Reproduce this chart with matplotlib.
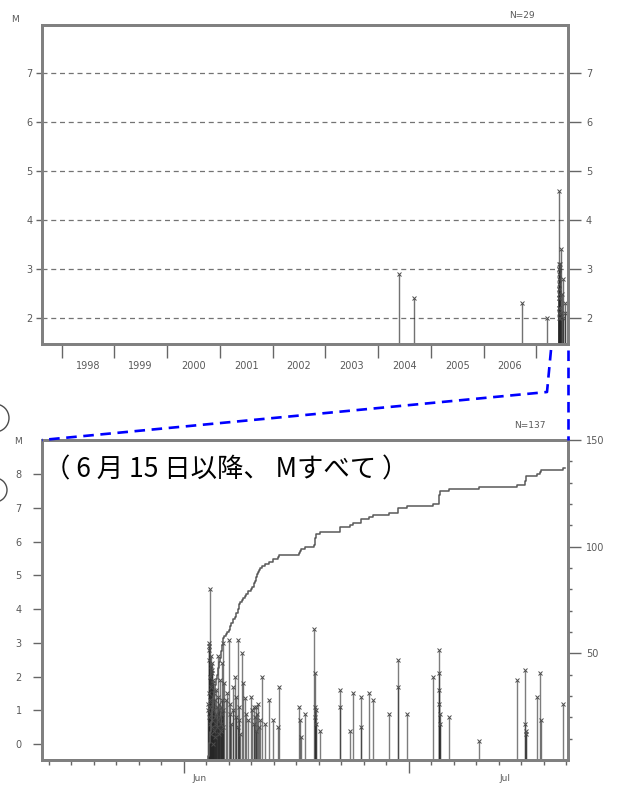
import numpy as np
import matplotlib
matplotlib.use('Agg')
import matplotlib.pyplot as plt
from matplotlib.lines import Line2D
from matplotlib.patches import Circle

# ---- top panel: 1998-2007, M>=2 (N=29) ----
top_years = [2004.40, 2004.68, 2006.73, 2007.20,
             2007.425, 2007.474, 2007.430, 2007.442, 2007.426,
             2007.428, 2007.427, 2007.427, 2007.507, 2007.435,
             2007.426, 2007.428, 2007.493, 2007.426, 2007.427,
             2007.429, 2007.538, 2007.425, 2007.427, 2007.474,
             2007.426, 2007.544, 2007.427, 2007.442, 2007.506]
top_mags = [2.9, 2.4, 2.3, 2.0,
            4.6, 3.4, 3.1, 3.1, 3.0,
            3.0, 2.9, 2.8, 2.8, 2.7,
            2.6, 2.6, 2.5, 2.5, 2.4,
            2.4, 2.3, 2.2, 2.2, 2.1,
            2.1, 2.1, 2.0, 2.0, 2.0]
year_labels = ['1998', '1999', '2000', '2001', '2002', '2003', '2004', '2005', '2006']

# ---- bottom panel: days since Jun 1 2007, all M (N=137) ----
bot_days = [
    3.50, 3.30, 3.35, 3.60, 3.42, 3.65, 3.38, 3.70, 3.55, 3.75,
    3.80, 3.85, 3.90, 3.95, 4.00, 3.25, 3.28, 3.33, 3.40, 3.45,
    3.48, 3.52, 3.58, 3.62, 3.68, 3.72, 3.78, 3.82, 3.88, 3.92,
    3.98, 4.05, 4.10, 4.15, 4.20, 4.25, 4.30, 4.35, 4.40, 4.45,
    4.50, 4.55, 4.60, 4.65, 5.20, 4.70, 4.75, 4.80, 4.85, 4.90,
    4.95, 5.00, 5.05, 5.10, 5.15, 5.18, 5.25,
    5.4, 5.6, 5.8, 6.0, 6.1, 6.2, 6.35, 6.5, 6.6, 6.8,
    6.9, 7.0, 7.16, 7.25, 7.3, 7.4, 7.45,
    7.7, 7.9, 8.1, 8.3,
    8.6, 8.9, 9.1,
    9.3, 9.4, 9.5, 9.6, 9.65,
    9.8, 9.9, 10.0, 10.2, 10.4,
    10.8, 11.4,
    11.9, 12.7,
    12.5,
    15.4, 15.5, 15.6,
    16.1,
    17.4, 17.45, 17.5, 17.5, 17.55, 17.6,
    18.1,
    20.8, 20.85,
    22.2, 22.5,
    23.6, 23.65,
    24.7, 25.2, 27.3,
    28.5, 28.55,
    29.7, 33.2,
    34.0, 34.02, 34.05, 34.07, 34.1, 34.12,
    35.3, 39.3, 44.4,
    45.5, 45.52, 45.55, 45.58,
    47.1,
    47.5, 47.55,
    50.5]
bot_mags = [
    4.6, 3.0, 2.9, 2.6, 2.8, 2.3, 2.5, 2.2, 2.0, 2.4,
    2.1, 1.8, 1.9, 1.4, 1.6, 1.0, 1.2, 1.5, 0.8, 1.3,
    0.6, 1.1, 0.9, 0.3, 1.7, 0.5, 1.2, 0.7, 0.0, 1.0,
    0.4, 1.5, 0.8, 1.3, 0.2, 0.9, 1.6, 0.6, 1.1, 0.5,
    1.4, 2.6, 0.7, 1.0, 3.0, 1.2, 0.3, 0.8, 1.9, 0.6,
    1.1, 0.4, 1.3, 0.9, 2.4, 0.5, 1.0,
    1.8, 1.3, 1.5, 3.1, 0.9, 1.2, 0.6, 1.7, 1.0, 2.0,
    0.8, 1.4, 3.1, 0.5, 1.1, 0.7, 0.3,
    2.7, 1.8, 1.35, 0.9,
    0.7, 1.4, 1.0,
    1.1, 0.6, 0.8, 1.1, 0.4,
    0.9, 1.2, 0.5, 0.7, 2.0,
    0.6, 1.3,
    0.7, 1.7,
    0.5,
    1.1, 0.7, 0.2,
    0.9,
    3.4, 2.1, 1.1, 0.8, 1.0, 0.6,
    0.4,
    1.6, 1.1,
    0.4, 1.5,
    1.4, 0.5,
    1.5, 1.3, 0.9,
    2.5, 1.7,
    0.9, 2.0,
    2.8, 2.1, 1.6, 1.2, 0.9, 0.6,
    0.8, 0.1, 1.9,
    2.2, 0.6, 0.4, 0.3,
    1.4,
    2.1, 0.7,
    1.2]

W, H = 626, 787


def fx(x):
    return x / W


def fy(y):
    return 1 - y / H


fig = plt.figure(figsize=(W / 100, H / 100), dpi=100)
spine_c = '0.5'
tick_c = '0.4'
lab_c = '0.35'

# ================= top panel =================
ax1 = fig.add_axes([fx(42), fy(344), fx(526), 319 / H])
ax1.set_xlim(1997.63, 2007.6)
ax1.set_ylim(1.47, 7.98)
ax1.vlines(top_years, 0, top_mags, color='0.15', lw=1, alpha=0.65)
ax1.plot(top_years, top_mags, ls='none', marker='x', ms=2.5, mew=0.7, color='0.3')
for v in range(2, 8):
    ax1.axhline(v, color='0.45', lw=0.9, ls=(0, (4, 3)), zorder=0)

ax1.set_xticks(np.arange(1998, 2008))
ax1.set_xticklabels([])
ax1.set_xticks(np.arange(1998, 2007) + 0.5, minor=True)
ax1.set_xticklabels(year_labels, minor=True)
ax1.tick_params(axis='x', which='major', direction='out', length=10, width=1, color=tick_c)
ax1.tick_params(axis='x', which='minor', length=0, pad=12, labelsize=7, labelcolor=lab_c)
ax1.set_yticks(range(2, 8))
ax1.tick_params(axis='y', direction='out', length=4, width=1, color=tick_c,
                labelsize=7, labelcolor=lab_c, pad=3)
ax1r = ax1.twinx()
ax1r.set_ylim(ax1.get_ylim())
ax1r.set_yticks(range(2, 8))
ax1r.tick_params(axis='y', direction='out', length=9, width=1, color=tick_c,
                 labelsize=7, labelcolor=lab_c, pad=4)
for a in (ax1, ax1r):
    for s in a.spines.values():
        s.set_color(spine_c)
        s.set_linewidth(2)

fig.text(fx(15), fy(20), 'M', fontsize=6.5, color=lab_c, ha='center', va='center')
fig.text(fx(522), fy(15), 'N=29', fontsize=6.5, color=lab_c, ha='center', va='center')

# ================= bottom panel =================
ax2 = fig.add_axes([fx(42), fy(760), fx(526), 320 / H])
ax2.set_xlim(-18.9, 51.2)
ax2.set_ylim(-0.475, 9.02)
ax2.vlines(bot_days, -1, bot_mags, color='0.15', lw=1, alpha=0.6)
ax2.plot(bot_days, bot_mags, ls='none', marker='x', ms=2.5, mew=0.7, color='0.3')
ax2.set_yticks(range(0, 9))
ax2.tick_params(axis='y', direction='out', length=6.5, width=1, color=tick_c,
                labelsize=7, labelcolor=lab_c, pad=8)
ax2.set_xticks([0, 30])
ax2.set_xticklabels([])
ax2.set_xticks(np.arange(-18, 52, 3), minor=True)
ax2.tick_params(axis='x', which='major', direction='out', length=9, width=1, color=tick_c)
ax2.tick_params(axis='x', which='minor', direction='out', length=3.5, width=1, color=tick_c)
ax2.text(2.1, -0.045, 'Jun', transform=ax2.get_xaxis_transform(), fontsize=6.5,
         color=lab_c, ha='center', va='top')
ax2.text(42.8, -0.045, 'Jul', transform=ax2.get_xaxis_transform(), fontsize=6.5,
         color=lab_c, ha='center', va='top')

ax2r = ax2.twinx()
ax2r.set_ylim(0, 150)
t_sorted = np.sort(bot_days)
counts = np.arange(1, len(t_sorted) + 1)
ax2r.step(np.r_[ax2.get_xlim()[0], t_sorted, t_sorted[-1] + 0.3],
          np.r_[0, counts, counts[-1]], where='post', color='0.35', lw=1.1)
ax2r.set_yticks([50, 100, 150])
ax2r.set_yticks(np.arange(10, 150, 10), minor=True)
ax2r.tick_params(axis='y', which='major', direction='out', length=9, width=1, color=tick_c,
                 labelsize=7, labelcolor=lab_c, pad=4)
ax2r.tick_params(axis='y', which='minor', direction='out', length=3, width=1, color=tick_c)
for a in (ax2, ax2r):
    for s in a.spines.values():
        s.set_color(spine_c)
        s.set_linewidth(2)

fig.text(fx(18), fy(442), 'M', fontsize=6.5, color=lab_c, ha='center', va='center')
fig.text(fx(530), fy(425), 'N=137', fontsize=6.5, color=lab_c, ha='center', va='center')

fig.text(fx(44), fy(470), '（ 6 月 15 日以降、 Mすべて ）', fontsize=19, va='center',
         family=['Noto Sans CJK JP', 'DejaVu Sans'])

# ---- zoom connector lines ----
fig.add_artist(Line2D([fx(551), fx(547), fx(42)], [fy(350), fy(392), fy(440)],
                      transform=fig.transFigure, color='#0000ff', lw=1.9, ls=(0, (4, 2.5))))
fig.add_artist(Line2D([fx(568), fx(568)], [fy(350), fy(440)],
                      transform=fig.transFigure, color='#0000ff', lw=1.9, ls=(0, (4, 2.5))))

# cropped circle marks at the left edge
for cy, r in ((418, 14), (490, 12)):
    fig.add_artist(Circle((-5 / 100, (H - cy) / 100), r / 100, transform=fig.dpi_scale_trans,
                          fill=False, ec='0.3', lw=1))

fig.savefig('out.png', dpi=100)
